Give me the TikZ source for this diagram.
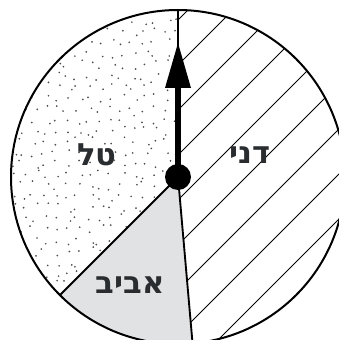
\documentclass[tikz,border=0pt]{standalone}
\usepackage{fontspec}
\newfontfamily\hebfont[Script=Hebrew]{DejaVu Sans}
\TeXXeTstate=1
\usetikzlibrary{arrows.meta,calc}
\definecolor{pin}{RGB}{42,45,48}
\definecolor{avivgray}{RGB}{225,226,228}

\begin{document}
\begin{tikzpicture}[x=0.75pt,y=0.75pt,
  rim/.style={line width=1.5pt,black},
  edge/.style={line width=1.4pt,black},
  hatch/.style={line width=0.6pt,black},
  lbl/.style={font=\hebfont\bfseries\fontsize{23}{26}\selectfont,text=pin}]
  \useasboundingbox (0,0) rectangle (339,340);
  \clip (0,0) rectangle (339,340);
  \def\rad{167}
  \coordinate (O) at (178,163);
  \path (O) ++(90:\rad) coordinate (top);
  \path (O) ++(225:\rad) coordinate (low);
  \path (O) ++(275:\rad) coordinate (bot);
  \coordinate (base) at (178,252);
  \coordinate (tip) at (178,297);
  % Aviv sector
  \fill[avivgray] (O) -- (low) arc[start angle=225,end angle=275,radius=\rad] -- cycle;
  % Tal: scattered dots
  \begin{scope}
    \clip (O) -- (top) arc[start angle=90,end angle=225,radius=\rad] -- cycle;
    \pgfmathsetseed{11}
    \foreach \i in {0,...,15}{
      \foreach \j in {0,...,26}{
        \pgfmathsetmacro{\px}{8+11*\i+9*rnd}
        \pgfmathsetmacro{\py}{40+11*\j+9*rnd}
        \fill[black!70] (\px,\py) circle[radius=0.95];
      }
    }
  \end{scope}
  % Dani: hatching
  \begin{scope}
    \clip (O) -- (top) arc[start angle=90,end angle=-85,radius=\rad] -- cycle;
    \foreach \k in {-8,...,3}
      \draw[hatch] (150,{157+45*\k}) -- (360,{367+45*\k});
  \end{scope}
  % Rim and radii
  \draw[rim] (O) circle[radius=\rad];
  \draw[edge] (O) -- (top);
  \draw[edge] (O) -- (low);
  \draw[edge] (O) -- (bot);
  % Pointer
  \draw[pin,line width=3.8pt] (O) -- (base);
  \fill[pin] (tip) -- ($(base)+(-13,0)$) -- ($(base)+(13,0)$) -- cycle;
  \fill[pin] (O) circle[radius=13];
  % Labels
  \node[lbl] (tal) at (97,185) {\beginR טל\endR};
  \node[lbl] (dani) at (250,185) {\beginR דני\endR};
  \node[lbl] (aviv) at (130,55) {\beginR אביב\endR};
\end{tikzpicture}
\end{document}
